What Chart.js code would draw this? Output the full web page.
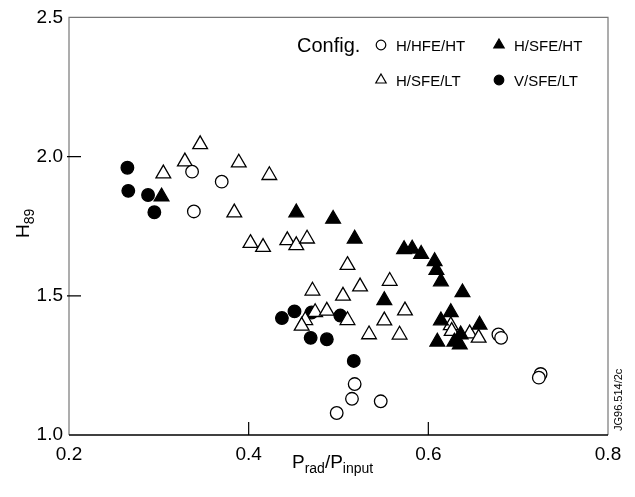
<!DOCTYPE html>
<html>
<head>
<meta charset="utf-8">
<script src="https://cdn.jsdelivr.net/npm/chart.js@4"></script>
<style>
  body { margin: 0; background: #fff; }
  #box { width: 635px; height: 497px; }
</style>
</head>
<body>
<div id="box"><canvas id="myChart" width="635" height="497"></canvas></div>
<script>
/* datos: [P_rad/P_input, H89] */
const hfe_ht = [
    [0.337, 1.946], [0.370, 1.910], [0.339, 1.803], [0.518, 1.183], [0.515, 1.130],
    [0.498, 1.079], [0.547, 1.121], [0.678, 1.361], [0.681, 1.349], [0.725, 1.219],
    [0.723, 1.206]
];
const sfe_ht = [
    [0.303, 1.856], [0.453, 1.799], [0.494, 1.776], [0.518, 1.705], [0.573, 1.667],
    [0.582, 1.669], [0.592, 1.650], [0.607, 1.624], [0.609, 1.592], [0.614, 1.551],
    [0.638, 1.512], [0.551, 1.484], [0.625, 1.441], [0.614, 1.411], [0.610, 1.335],
    [0.636, 1.361], [0.629, 1.335], [0.635, 1.325], [0.657, 1.396]
];
const sfe_lt = [
    [0.305, 1.939], [0.329, 1.982], [0.346, 2.044], [0.389, 1.978], [0.423, 1.933],
    [0.384, 1.799], [0.402, 1.689], [0.416, 1.675], [0.443, 1.699], [0.453, 1.681],
    [0.465, 1.705], [0.471, 1.518], [0.510, 1.610], [0.505, 1.500], [0.524, 1.533],
    [0.557, 1.553], [0.474, 1.441], [0.463, 1.412], [0.459, 1.392], [0.487, 1.446],
    [0.510, 1.412], [0.574, 1.447], [0.551, 1.411], [0.534, 1.361], [0.568, 1.360],
    [0.625, 1.394], [0.626, 1.373], [0.646, 1.364], [0.656, 1.349]
];
const v_sfe_lt = [
    [0.265, 1.960], [0.266, 1.877], [0.288, 1.862], [0.295, 1.800], [0.437, 1.420],
    [0.451, 1.444], [0.470, 1.440], [0.469, 1.349], [0.487, 1.344], [0.502, 1.429],
    [0.517, 1.266]
];
const config_names = ["H/HFE/HT", "H/SFE/HT", "H/SFE/LT", "V/SFE/LT"];
const x_ticks = [0.2, 0.4, 0.6, 0.8];
const y_ticks = [1.0, 1.5, 2.0, 2.5];

const FONT = "Liberation Sans, Arial, sans-serif";

function puntos(lista) {
    return lista.map((p) => ({ x: p[0], y: p[1] }));
}

const estilos = [
    { pointStyle: "circle", radius: 6.3, fill: "#fff" },
    { pointStyle: "triangle", radius: 8.5, fill: "#000" },
    { pointStyle: "triangle", radius: 8.5, fill: "#fff" },
    { pointStyle: "circle", radius: 6.3, fill: "#000" }
];
const series = [hfe_ht, sfe_ht, sfe_lt, v_sfe_lt];

const datasets = series.map((s, i) => ({
    label: config_names[i],
    data: puntos(s),
    pointStyle: estilos[i].pointStyle,
    pointRadius: estilos[i].radius,
    pointHoverRadius: estilos[i].radius,
    pointBackgroundColor: estilos[i].fill,
    pointBorderColor: "#000",
    pointBorderWidth: 1.3
}));

/* marco, ticks hacia adentro, titulos y leyenda */
const extras = {
    id: "extras",
    afterDraw(chart) {
        const ctx = chart.ctx;
        const a = chart.chartArea;
        const xs = chart.scales.x;
        const ys = chart.scales.y;
        ctx.save();

        ctx.strokeStyle = "#777";
        ctx.lineWidth = 1.2;
        ctx.beginPath();
        ctx.moveTo(a.left, a.bottom);
        ctx.lineTo(a.left, a.top);
        ctx.lineTo(a.right, a.top);
        ctx.lineTo(a.right, a.bottom);
        ctx.stroke();
        ctx.strokeStyle = "#000";
        ctx.lineWidth = 1.5;
        ctx.beginPath();
        ctx.moveTo(a.left, a.bottom);
        ctx.lineTo(a.right, a.bottom);
        ctx.stroke();

        ctx.lineWidth = 1.2;
        ctx.beginPath();
        x_ticks.slice(1, -1).forEach((v) => {
            const px = xs.getPixelForValue(v);
            ctx.moveTo(px, a.bottom);
            ctx.lineTo(px, a.bottom - 13);
        });
        y_ticks.slice(1, -1).forEach((v) => {
            const py = ys.getPixelForValue(v);
            ctx.moveTo(a.left - 2, py);
            ctx.lineTo(a.left + 12, py);
        });
        ctx.stroke();

        ctx.fillStyle = "#000";
        ctx.textBaseline = "alphabetic";

        /* titulo eje x: P_rad/P_input */
        let x = 292, yb = 468;
        const partes = [["P", 19, 0], ["rad", 14, 5], ["/P", 19, 0], ["input", 14, 5]];
        partes.forEach((p) => {
            ctx.font = p[1] + "px " + FONT;
            ctx.textAlign = "left";
            ctx.fillText(p[0], x, yb + p[2]);
            x += ctx.measureText(p[0]).width;
        });

        /* titulo eje y: H89 */
        ctx.save();
        ctx.translate(29, 238);
        ctx.rotate(-Math.PI / 2);
        ctx.font = "19px " + FONT;
        ctx.fillText("H", 0, 0);
        const wH = ctx.measureText("H").width;
        ctx.font = "14px " + FONT;
        ctx.fillText("89", wH, 5);
        ctx.restore();

        /* etiqueta lateral */
        ctx.save();
        ctx.translate(622, 431);
        ctx.rotate(-Math.PI / 2);
        ctx.font = "11px " + FONT;
        ctx.fillText("JG96.514/2c", 0, 0);
        ctx.restore();

        /* leyenda */
        ctx.font = "20px " + FONT;
        ctx.fillText("Config.", 297, 52);
        const pos = [[381, 45], [499, 45], [381, 80], [499, 80]];
        ctx.font = "15px " + FONT;
        config_names.forEach((nombre, i) => {
            const cx = pos[i][0], cy = pos[i][1];
            ctx.beginPath();
            if (estilos[i].pointStyle === "circle") {
                ctx.arc(cx, cy, 4.8, 0, Math.PI * 2);
            } else {
                const r = 6;
                ctx.moveTo(cx, cy - r);
                ctx.lineTo(cx + r * 0.866, cy + r / 2);
                ctx.lineTo(cx - r * 0.866, cy + r / 2);
                ctx.closePath();
            }
            ctx.fillStyle = estilos[i].fill;
            ctx.fill();
            ctx.strokeStyle = "#000";
            ctx.lineWidth = 1.2;
            ctx.stroke();
            ctx.fillStyle = "#000";
            ctx.fillText(nombre, cx + 15, cy + 6);
        });

        ctx.restore();
    }
};

const ctx = document.getElementById("myChart").getContext("2d");
const myChart = new Chart(ctx, {
    type: "scatter",
    data: { datasets },
    options: {
        responsive: false,
        animation: false,
        layout: { padding: { top: 13, right: 27, left: 0, bottom: 0 } },
        plugins: { legend: { display: false }, tooltip: { enabled: false } },
        scales: {
            x: {
                type: "linear",
                min: 0.2,
                max: 0.8,
                grid: { display: false, drawTicks: false },
                border: { display: false },
                afterBuildTicks: (s) => { s.ticks = x_ticks.map((v) => ({ value: v })); },
                afterFit: (s) => { s.height = 62; },
                ticks: {
                    color: "#000",
                    padding: 8,
                    font: { family: FONT, size: 19 },
                    callback: (v) => v.toFixed(1)
                }
            },
            y: {
                type: "linear",
                min: 1.0,
                max: 2.5,
                grid: { display: false, drawTicks: false },
                border: { display: false },
                afterBuildTicks: (s) => { s.ticks = y_ticks.map((v) => ({ value: v })); },
                afterFit: (s) => { s.width = 69; },
                ticks: {
                    color: "#000",
                    padding: 6,
                    font: { family: FONT, size: 19 },
                    callback: (v) => v.toFixed(1)
                }
            }
        }
    },
    plugins: [extras]
});
</script>
</body>
</html>
